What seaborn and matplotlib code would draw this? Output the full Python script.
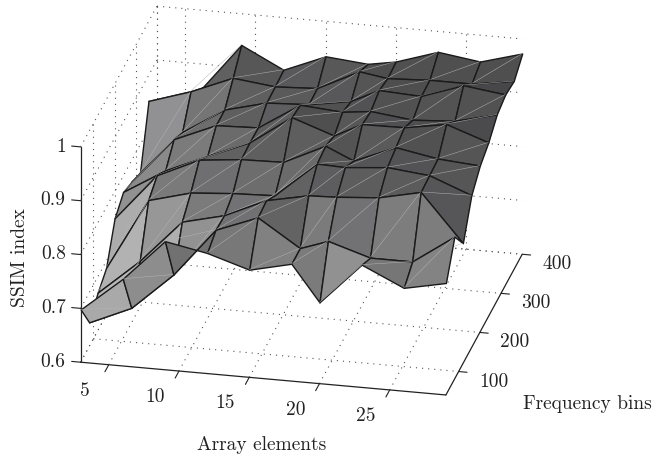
import matplotlib
matplotlib.use("Agg")
import matplotlib.pyplot as plt
import seaborn as sns
import numpy as np

sns.set_style("white")
plt.rcParams['font.family'] = ['cmr10', 'DejaVu Serif']
plt.rcParams['axes.formatter.use_mathtext'] = True
plt.rcParams['axes.unicode_minus'] = False

# data
array_elements = [3, 6, 9, 12, 15, 18, 20, 23, 26, 29]
freq_bins = [40, 80, 120, 160, 200, 240, 280, 320, 360, 400]
ssim = [
    [.698, .762, .839, .824, .800, .818, .751, .828, .792, .808],
    [.645, .679, .748, .838, .868, .818, .836, .812, .812, .865],
    [.671, .737, .817, .836, .871, .887, .889, .895, .912, .824],
    [.688, .821, .842, .848, .851, .917, .915, .922, .914, .884],
    [.751, .838, .874, .882, .884, .921, .898, .930, .916, .910],
    [.771, .818, .852, .884, .938, .911, .937, .938, .951, .924],
    [.761, .847, .880, .883, .932, .926, .932, .923, .928, .947],
    [.749, .831, .880, .900, .904, .917, .942, .938, .965, .955],
    [.853, .878, .910, .901, .905, .943, .935, .939, .939, .951],
    [.814, .849, .942, .903, .935, .928, .937, .962, .951, .973],
]
x_ticks = [5, 10, 15, 20, 25]
y_ticks = [100, 200, 300, 400]
z_ticks = [0.6, 0.7, 0.8, 0.9, 1]
z_labels = ["0.6", "0.7", "0.8", "0.9", "1"]

X, Y = np.meshgrid(array_elements, freq_bins)
Z = np.array(ssim)

def face_color(v):
    g = np.interp(v, [.65, .70, .75, .82, .87, .92, .97], [185, 168, 145, 122, 98, 84, 70]) / 255
    return (g, g, g + .005)

fig = plt.figure(figsize=(6.53, 4.56), dpi=100)
S = 550
ax = fig.add_axes([(294 - S / 2) / 653, (247 - S / 2) / 456, S / 653, S / 456], projection='3d', proj_type='ortho')
ax.view_init(elev=24, azim=-77.56)
ax.set_box_aspect((376.9, 357, 237.5), zoom=1)
ax.computed_zorder = False
ax.patch.set_alpha(0)

# painter order: far rows first, left columns first
order = 10
for r in range(len(freq_bins) - 2, -1, -1):
    for c in range(len(array_elements) - 1):
        ax.plot_surface(X[r:r+2, c:c+2], Y[r:r+2, c:c+2], Z[r:r+2, c:c+2], color=face_color(Z[r, c]),
                        shade=False, edgecolor='#1a1a1a', linewidth=1.0, zorder=order)
        ax.plot([X[r, c], X[r+1, c+1]], [Y[r, c], Y[r+1, c+1]], [Z[r, c], Z[r+1, c+1]],
                color='#b4b4b4', linewidth=0.35, zorder=order + 1)
        order += 2

ax.set_xlim(3, 29, view_margin=0)
ax.set_ylim(40, 400, view_margin=0)
ax.set_zlim(0.6, 1, view_margin=0)
ax.set_xticks([])
ax.set_yticks([])
ax.set_zticks([])

for axis in (ax.xaxis, ax.yaxis, ax.zaxis):
    axis.set_pane_color((1, 1, 1, 0))
    axis.pane.set_edgecolor('none')
    axis.line.set_color('#222222')
    axis.line.set_linewidth(0.9)
ax.zaxis.set_ticks_position('lower')

# dotted grid on the floor and the two back walls
grid_style = dict(color='#555555', linestyle=(0, (1, 4.5)), linewidth=0.8, zorder=1)
x0, x1 = ax.get_xlim()
y0, y1 = ax.get_ylim()
z0, z1 = ax.get_zlim()
for t in [x0] + x_ticks:
    ax.plot([t, t], [y0, y1], [z0, z0], **grid_style)
    ax.plot([t, t], [y1, y1], [z0, z1], **grid_style)
for t in y_ticks:
    ax.plot([x0, x1], [t, t], [z0, z0], **grid_style)
    ax.plot([x0, x0], [t, t], [z0, z1], **grid_style)
for t in z_ticks:
    ax.plot([x0, x0], [y0, y1], [t, t], **grid_style)
    ax.plot([x0, x1], [y1, y1], [t, t], **grid_style)

# ticks and their labels, in data coordinates
tick_style = dict(color='#222222', linewidth=0.8, zorder=2)
text_style = dict(fontsize=14, color='#222222', va='center')
for t in x_ticks:
    ax.plot([t, t], [y0, 22], [z0, z0], **tick_style)
    ax.text(t, -72, 0.635, str(t), ha='center', **text_style)
for t in y_ticks:
    ax.plot([x1, 29.6], [t, t], [z0, z0], **tick_style)
    ax.text(31.5, t, 0.589, str(t), ha='center', **text_style)
for t, lab in zip(z_ticks, z_labels):
    ax.plot([x0, 2.36], [y0, y0], [t, t], **tick_style)
    ax.text(1.94, y0, t, lab, ha='right', **text_style)

fig.text(262 / 653, 1 - 445 / 456, "Array elements", fontsize=14, color='#222222', ha='center', va='center')
fig.text(587 / 653, 1 - 404 / 456, "Frequency bins", fontsize=14, color='#222222', ha='center', va='center')
fig.text(20 / 653, 1 - 258 / 456, "SSIM index", fontsize=14, color='#222222', ha='center', va='center', rotation=90)

fig.savefig("out.png", dpi=100)
